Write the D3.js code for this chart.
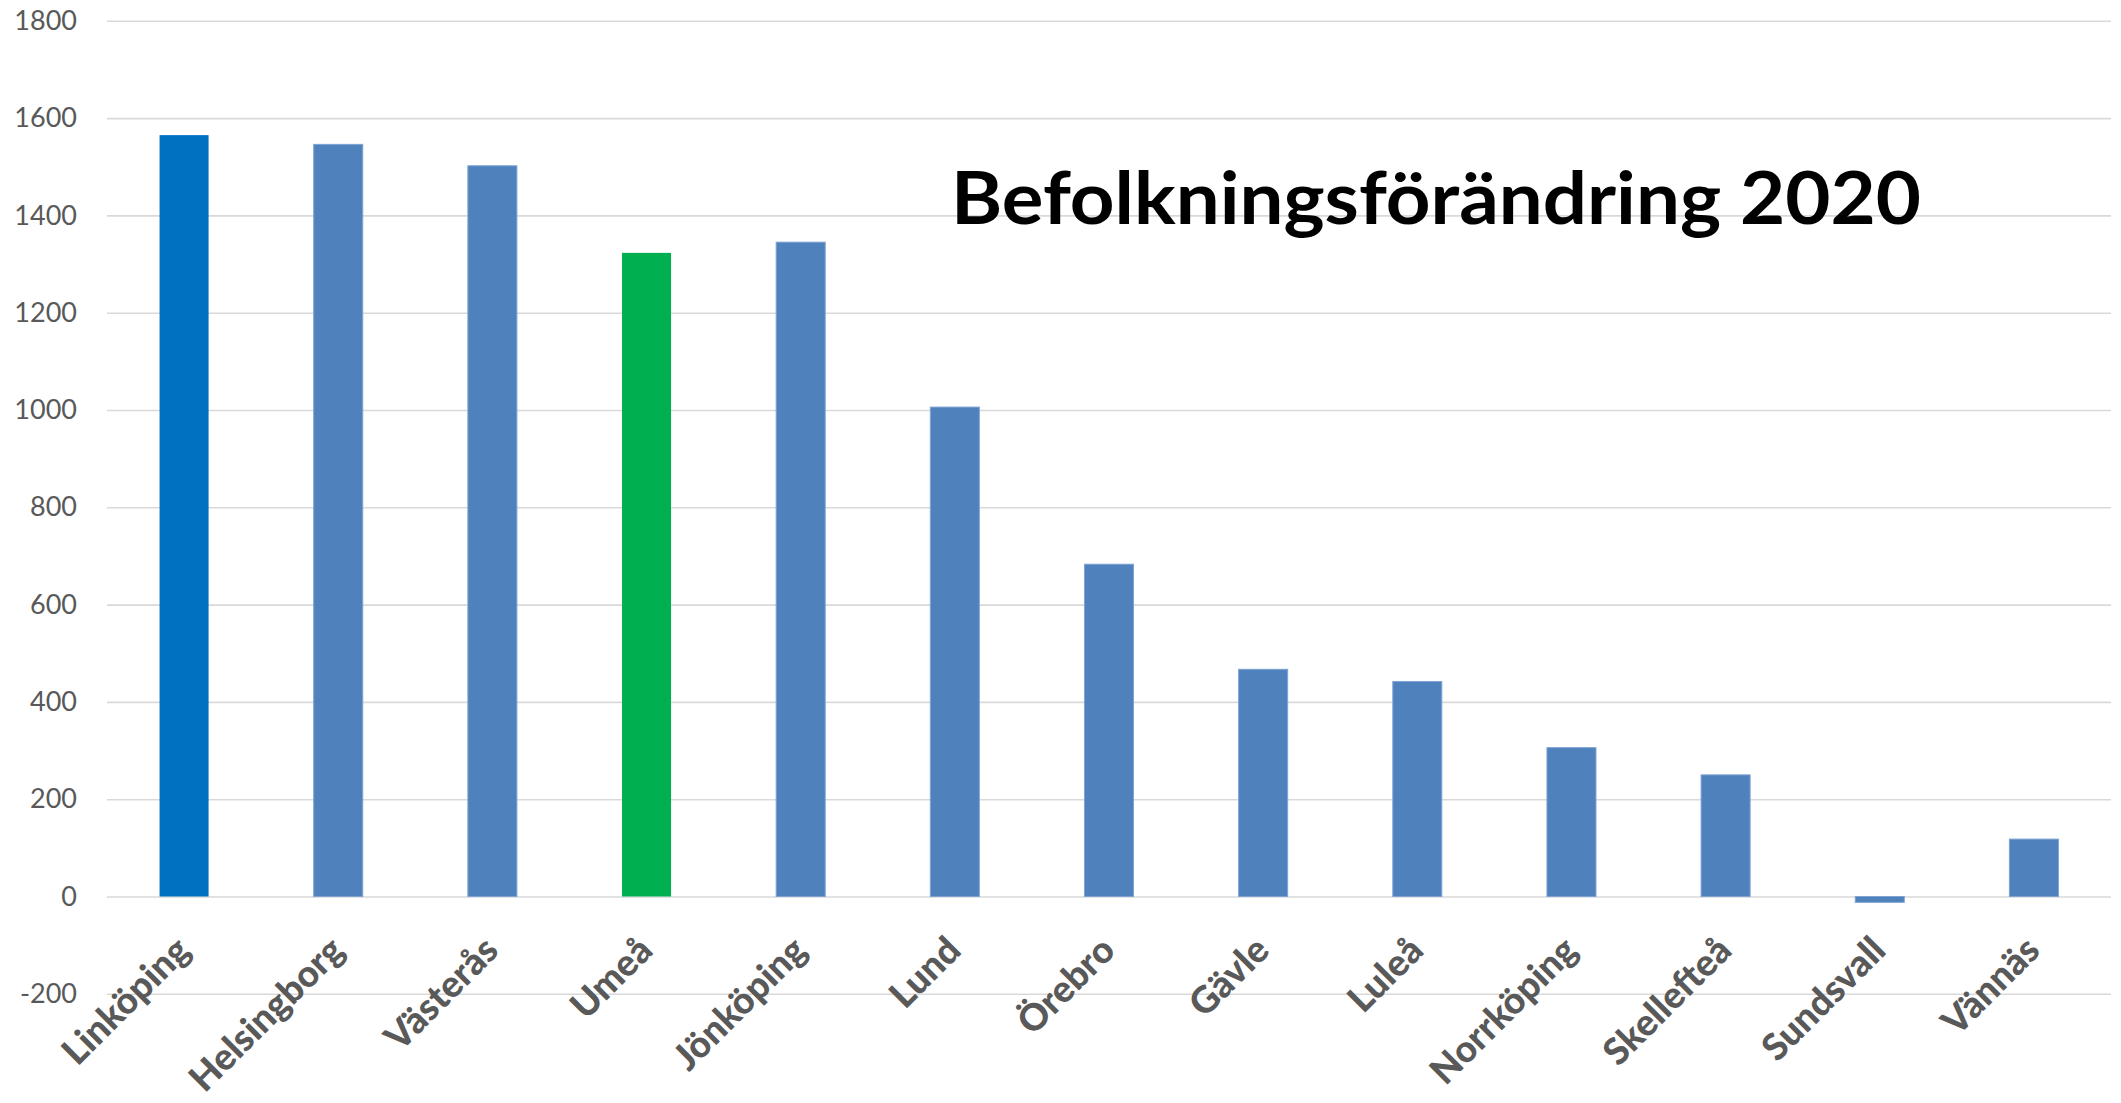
<!DOCTYPE html>
<html>
<head>
<meta charset="utf-8">
<script src="https://cdn.jsdelivr.net/npm/d3@7"></script>
<style>
  body { margin: 0; background: #fff; }
  svg { display: block; }
</style>
</head>
<body>
<script>
// data
var cities = ['Linköping', 'Helsingborg', 'Västerås', 'Umeå', 'Jönköping', 'Lund', 'Örebro',
              'Gävle', 'Luleå', 'Norrköping', 'Skellefteå', 'Sundsvall', 'Vännäs'];
var change = [1565, 1546, 1502, 1323, 1345, 1006, 683, 467, 442, 306, 250, -12, 118];
var barColors = ['#0070C0', '#4F81BD', '#4F81BD', '#00B050', '#4F81BD', '#4F81BD', '#4F81BD',
                 '#4F81BD', '#4F81BD', '#4F81BD', '#4F81BD', '#4F81BD', '#4F81BD'];
var yTicks = [-200, 0, 200, 400, 600, 800, 1000, 1200, 1400, 1600, 1800];
var title = 'Befolkningsförändring 2020';

var W = 2121, H = 1103;
var plotLeft = 107, plotRight = 2111, plotTop = 20.8, plotBottom = 993.8;

var svg = d3.select('body').append('svg')
    .attr('width', W)
    .attr('height', H);

var x = d3.scaleBand()
    .domain(cities)
    .range([plotLeft, plotRight])
    .paddingInner(0.682)
    .paddingOuter(0.341);

var y = d3.scaleLinear()
    .domain([-200, 1800])
    .range([plotBottom, plotTop]);

// gridlines + value labels
var yAxis = svg.append('g')
    .attr('transform', 'translate(' + plotLeft + ',0)')
    .call(d3.axisLeft(y)
        .tickValues(yTicks)
        .tickSizeInner(-(plotRight - plotLeft))
        .tickSizeOuter(0)
        .tickPadding(30)
        .tickFormat(function(d){ return String(d); }));
yAxis.select('.domain').remove();
yAxis.selectAll('.tick line')
    .attr('stroke', '#d9d9d9')
    .attr('stroke-width', 1.6);
yAxis.selectAll('.tick text')
    .attr('fill', '#595959')
    .style('font-family', 'Lato, "Open Sans", sans-serif')
    .style('font-size', '27px');

// bars
svg.append('g').selectAll('rect')
    .data(change)
    .enter().append('rect')
    .attr('x', function(d, i){ return x(cities[i]); })
    .attr('y', function(d){ return y(Math.max(d, 0)); })
    .attr('width', x.bandwidth())
    .attr('height', function(d){ return Math.abs(y(d) - y(0)); })
    .attr('fill', function(d, i){ return barColors[i]; })
    .attr('stroke', function(d, i){ return barColors[i] === '#4F81BD' ? '#7fa3d2' : 'none'; })
    .attr('stroke-width', 1);

// category labels, rotated
svg.append('g').selectAll('text')
    .data(cities)
    .enter().append('text')
    .attr('transform', function(d){
        return 'translate(' + (x(d) + x.bandwidth() / 2 + 8) + ',' + (y(0) + 56) + ') rotate(-45)';
    })
    .attr('text-anchor', 'end')
    .attr('fill', '#595959')
    .style('font-family', 'Lato, "Open Sans", sans-serif')
    .style('font-weight', '900')
    .style('font-size', '37px')
    .text(function(d){ return d; });

// title
svg.append('text')
    .attr('x', 951)
    .attr('y', 224)
    .attr('textLength', 970)
    .attr('lengthAdjust', 'spacingAndGlyphs')
    .attr('fill', '#000')
    .style('font-family', 'Lato, "Open Sans", sans-serif')
    .style('font-weight', 'bold')
    .style('font-size', '72px')
    .text(title);
</script>
</body>
</html>
